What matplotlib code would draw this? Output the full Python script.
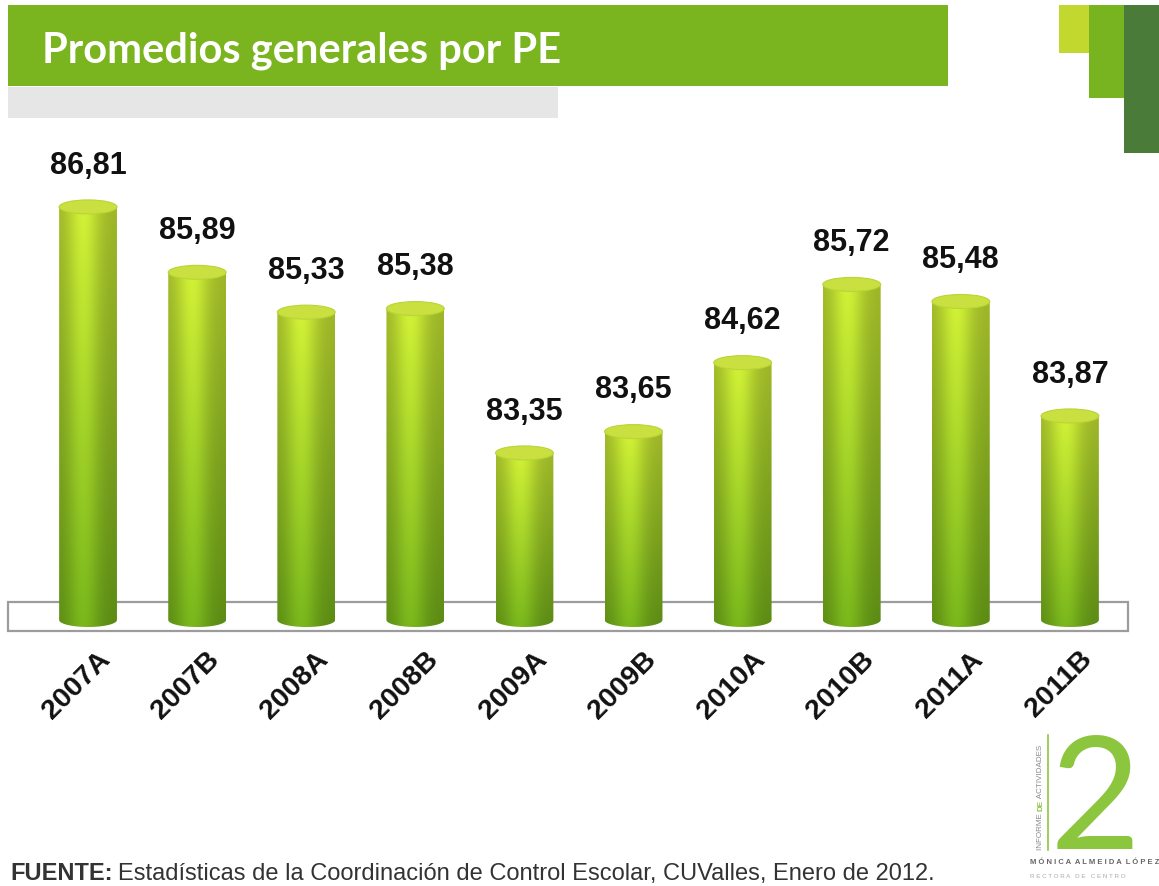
import numpy as np
import matplotlib.pyplot as plt
from matplotlib.patches import Rectangle, Ellipse, PathPatch
from matplotlib.path import Path
from matplotlib.colors import to_rgb

periodos = ['2007A', '2007B', '2008A', '2008B', '2009A',
            '2009B', '2010A', '2010B', '2011A', '2011B']
promedios = [86.81, 85.89, 85.33, 85.38, 83.35, 83.65, 84.62, 85.72, 85.48, 83.87]
etiquetas = ['86,81', '85,89', '85,33', '85,38', '83,35',
             '83,65', '84,62', '85,72', '85,48', '83,87']

W, H = 1159, 886
BASE = 81.0
PX_PER_UNIT = 71.1
Y_BOTTOM_PX = 620 + 0.5 * PX_PER_UNIT   # pixel row of BASE - 0.5

fig = plt.figure(figsize=(W / 100, H / 100), dpi=100)
fig.patch.set_facecolor('white')


def px_rect(x0, y0, x1, y1, color, **kw):
    # rectangle given in image pixels (top-left origin)
    r = Rectangle((x0 / W, 1 - y1 / H), (x1 - x0) / W, (y1 - y0) / H,
                  transform=fig.transFigure, facecolor=color, edgecolor='none', **kw)
    fig.patches.append(r)
    return r


# header bands
px_rect(8, 5, 948, 86, '#7ab51f')
px_rect(8, 87, 558, 118, '#e6e6e6')
px_rect(1059, 5, 1090, 53, '#c2d82e')
px_rect(1089, 5, 1125, 98, '#78b41f')
px_rect(1124, 5, 1159, 153, '#4a7b38')
fig.text(42 / W, 1 - 62 / H, 'Promedios generales por PE', color='white',
         fontsize=30, fontweight='bold', family='Lato', va='baseline', ha='left')

# chart axes
ax = fig.add_axes([33.5 / W, (H - Y_BOTTOM_PX) / H, 1091 / W, (Y_BOTTOM_PX - 160) / H])
ylim = (BASE - 0.5, BASE + 460 / PX_PER_UNIT)
ax.axis('off')

# floor box
floor = Rectangle((8 / W, 1 - 631 / H), 1120 / W, 29 / H, transform=fig.transFigure,
                  facecolor='white', edgecolor='#9c9c9c', lw=1.6, zorder=1, clip_on=False)
ax.add_patch(floor)

bw = 0.53
eh = 14 / PX_PER_UNIT
top_col = np.array(to_rgb('#c6e433'))
bot_col = np.array(to_rgb('#72ad1a'))

ny, nx = 120, 80
t = np.linspace(0, 1, ny)[:, None, None]
u = np.linspace(0, 1, nx)[None, :, None]
shade = 0.80 + 0.26 * np.exp(-((u - 0.42) / 0.28) ** 2)
grad = np.clip((bot_col * (1 - t) + top_col * t) * shade, 0, 1)

for i, v in enumerate(promedios):
    x0, x1 = i - bw / 2, i + bw / 2
    # body outline: sides, rounded bottom, flat top
    theta = np.linspace(np.pi, 2 * np.pi, 40)
    bx = i + bw / 2 * np.cos(theta)
    by = BASE + eh / 2 * np.sin(theta)
    verts = [(x0, v)] + list(zip(bx, by)) + [(x1, v), (x0, v)]
    codes = [Path.MOVETO] + [Path.LINETO] * (len(verts) - 2) + [Path.CLOSEPOLY]
    clip = PathPatch(Path(verts, codes), facecolor='none', edgecolor='none',
                     transform=ax.transData)
    ax.add_patch(clip)
    im = ax.imshow(grad, extent=(x0, x1, BASE - eh / 2, v), origin='lower',
                   aspect='auto', zorder=3, interpolation='bilinear')
    im.set_clip_path(clip)
    ax.add_patch(Ellipse((i, v), bw, eh, facecolor='#c9e040', edgecolor='#b9d536',
                         lw=0.8, zorder=4))
    ax.text(i, v + 0.58, etiquetas[i], ha='center', va='center', fontsize=22,
            fontweight='bold', family='Liberation Sans', color='#111111',
            clip_on=False)
    ax.text(i + 0.17, BASE - 0.5, periodos[i], rotation=45, rotation_mode='anchor',
            ha='right', va='center', fontsize=20.5, fontweight='bold',
            family='Liberation Sans', color='#111111', clip_on=False)

ax.set_xlim(-0.5, 9.5)
ax.set_ylim(*ylim)

# footer
renderer = fig.canvas.get_renderer()
f1 = fig.text(10 / W, 1 - 880 / H, 'FUENTE:', fontsize=17, fontweight='bold',
              family='Liberation Sans', color='#333333', va='baseline', ha='left')
bb = f1.get_window_extent(renderer)
fig.text((bb.x1 + 6) / W, 1 - 880 / H,
         'Estadísticas de la Coordinación de Control Escolar, CUValles, Enero de 2012.',
         fontsize=17, family='Liberation Sans', color='#333333', va='baseline', ha='left')

# logo
fig.text(1095 / W, 1 - 849 / H, '2', fontsize=113, family='Lato', fontweight='normal',
         color='#8cc63f', ha='center', va='baseline')
fig.lines.append(plt.Line2D([1048 / W, 1048 / W], [1 - 735 / H, 1 - 850 / H],
                            transform=fig.transFigure, color='#8cc63f', lw=1.2))
y = 850
for part, col in [('INFORME ', '#8a8a8a'), ('DE', '#8cc63f'), (' ACTIVIDADES', '#8a8a8a')]:
    tx = fig.text(1041 / W, 1 - y / H, part, rotation=90, fontsize=5.8,
                  family='Liberation Sans', color=col, ha='center', va='bottom',
                  fontweight='bold' if part == 'DE' else 'normal')
    y -= tx.get_window_extent(renderer).height
fig.text(1030 / W, 1 - 863 / H, 'M Ó N I C A  A L M E I D A  L Ó P E Z', fontsize=5.5,
         fontweight='bold', family='Liberation Sans', color='#666666', va='center')
fig.text(1030 / W, 1 - 876 / H, 'R E C T O R A   D E   C E N T R O', fontsize=4.5,
         family='Liberation Sans', color='#aaaaaa', va='center')

fig.savefig('out.png', dpi=100)
